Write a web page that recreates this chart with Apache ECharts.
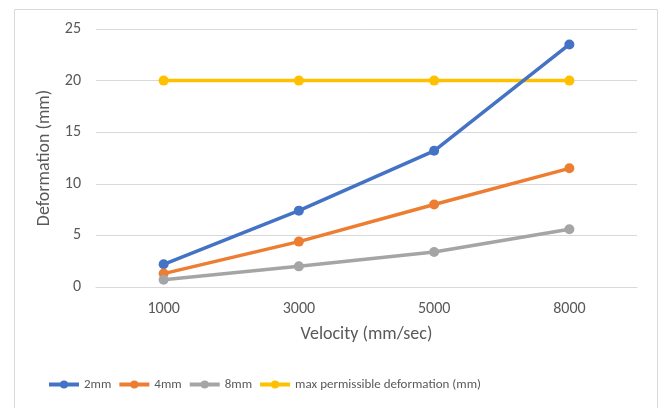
<!DOCTYPE html>
<html>
<head>
<meta charset="utf-8">
<script src="https://cdn.jsdelivr.net/npm/echarts@6/dist/echarts.min.js"></script>
<style>
  html, body { margin: 0; padding: 0; background: #fff; }
  #chart { width: 672px; height: 408px; }
</style>
</head>
<body>
<div id="chart"></div>
<script>
// Velocity categories (mm/sec)
const velocities = ['1000', '3000', '5000', '8000'];
// Deformation (mm) for each thickness
const def2mm = [2.2, 7.4, 13.2, 23.5];
const def4mm = [1.3, 4.4, 8.0, 11.5];
const def8mm = [0.7, 2.0, 3.4, 5.6];
const maxPermissible = [20, 20, 20, 20];
const seriesNames = ['2mm', '4mm', '8mm', 'max permissible deformation (mm)'];
const seriesColors = ['#4472C4', '#ED7D31', '#A5A5A5', '#FFC000'];

const fontFamily = 'Carlito, "Liberation Sans", "Open Sans", sans-serif';
const textColor = '#595959';

const chart = echarts.init(document.getElementById('chart'), null, { renderer: 'canvas' });

const seriesData = [def2mm, def4mm, def8mm, maxPermissible];

chart.setOption({
  animation: false,
  backgroundColor: '#ffffff',
  graphic: [{
    type: 'rect',
    shape: { x: 14.5, y: 9.5, width: 643, height: 420 },
    style: { fill: 'none', stroke: '#d9d9d9', lineWidth: 1 },
    silent: true,
    z: -1
  }],
  grid: { left: 96, right: 35, top: 29, bottom: 121, containLabel: false },
  legend: {
    top: 378,
    left: 47,
    padding: 0,
    itemWidth: 30,
    itemHeight: 10,
    itemGap: 6,
    lineStyle: { width: 4 },
    textStyle: { color: textColor, fontSize: 13, fontFamily: fontFamily },
    data: seriesNames
  },
  xAxis: {
    type: 'category',
    data: velocities,
    boundaryGap: true,
    name: 'Velocity (mm/sec)',
    nameLocation: 'middle',
    nameGap: 38,
    nameTextStyle: { color: textColor, fontSize: 18, fontFamily: fontFamily },
    axisLine: { show: true, lineStyle: { color: '#d9d9d9' } },
    axisTick: { show: false },
    axisLabel: { color: textColor, fontSize: 16, fontFamily: fontFamily, margin: 14 }
  },
  yAxis: {
    type: 'value',
    min: 0,
    max: 25,
    interval: 5,
    name: 'Deformation (mm)',
    nameLocation: 'middle',
    nameGap: 38,
    nameTextStyle: { color: textColor, fontSize: 18, fontFamily: fontFamily },
    axisLine: { show: false },
    axisTick: { show: false },
    axisLabel: { color: textColor, fontSize: 16, fontFamily: fontFamily, margin: 15 },
    splitLine: { lineStyle: { color: '#d9d9d9', width: 1 } }
  },
  series: seriesNames.map((name, i) => ({
    name: name,
    type: 'line',
    data: seriesData[i],
    symbol: 'circle',
    symbolSize: 10,
    color: seriesColors[i],
    lineStyle: { width: 3.5, color: seriesColors[i] },
    itemStyle: { color: seriesColors[i] },
    z: i === 3 ? 1 : 2
  }))
});
</script>
</body>
</html>
